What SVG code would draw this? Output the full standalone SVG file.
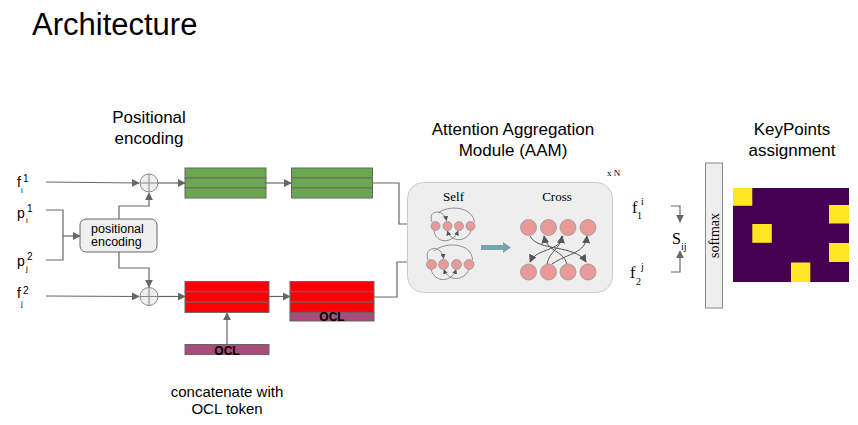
<svg xmlns="http://www.w3.org/2000/svg" width="858" height="425" viewBox="0 0 858 425">
<defs>
<marker id="ah" viewBox="0 0 10 10" refX="9" refY="5" markerWidth="8" markerHeight="8" orient="auto" markerUnits="userSpaceOnUse"><path d="M0,0 L10,5 L0,10 z" fill="#666"/></marker>
<marker id="ahs" viewBox="0 0 10 10" refX="9" refY="5" markerWidth="5" markerHeight="5" orient="auto" markerUnits="userSpaceOnUse"><path d="M0,0 L10,5 L0,10 z" fill="#555"/></marker>
<marker id="ahc" viewBox="0 0 10 10" refX="9" refY="5" markerWidth="8" markerHeight="8" orient="auto" markerUnits="userSpaceOnUse"><path d="M0,0 L10,5 L0,10 z" fill="#555"/></marker>
</defs>
<style>
.sans{font-family:"Liberation Sans",Arial,sans-serif;fill:#000}
.serif{font-family:"Liberation Serif","Times New Roman",serif;fill:#000}
.conn{fill:none;stroke:#666;stroke-width:1.2}
.green{fill:#6aa84f;stroke:#666;stroke-width:1}
.red{fill:#ff0000;stroke:#666;stroke-width:1}
.ocl{fill:#a64d79;stroke:#666;stroke-width:1}
.oclt{font-family:"Liberation Sans",Arial,sans-serif;font-weight:bold;font-size:12px;text-anchor:middle}
.sc{fill:#ea9999;stroke:#999;stroke-width:0.8}
.arc{fill:none;stroke:#777;stroke-width:0.8}
.carc{fill:none;stroke:#555;stroke-width:1}
.plus{fill:#eeeeee;stroke:#888;stroke-width:1}
</style>
<rect width="858" height="425" fill="#fff"/>

<text class="sans" x="32" y="35" font-size="31">Architecture</text>
<text class="sans" x="149" y="123" font-size="17" text-anchor="middle">Positional</text>
<text class="sans" x="149" y="144" font-size="17" text-anchor="middle">encoding</text>
<text class="sans" x="513" y="135" font-size="17" text-anchor="middle">Attention Aggregation</text>
<text class="sans" x="513" y="156" font-size="17" text-anchor="middle">Module (AAM)</text>
<text class="sans" x="792" y="135" font-size="17" text-anchor="middle">KeyPoints</text>
<text class="sans" x="792" y="156" font-size="17" text-anchor="middle">assignment</text>
<text class="sans" x="227" y="397" font-size="15" text-anchor="middle">concatenate with</text>
<text class="sans" x="227" y="414" font-size="15" text-anchor="middle">OCL token</text>

<g id="inputs">
<text class="sans" x="17" y="187" font-size="14">f</text><text class="sans" x="23" y="182" font-size="10">1</text><text class="sans" x="21" y="193" font-size="8">i</text>
<text class="sans" x="17" y="218" font-size="14">p</text><text class="sans" x="27" y="212" font-size="10">1</text><text class="sans" x="26" y="223" font-size="8">i</text>
<text class="sans" x="17" y="266" font-size="14">p</text><text class="sans" x="27" y="260" font-size="10">2</text><text class="sans" x="26" y="271" font-size="8">j</text>
<text class="sans" x="17" y="298" font-size="14">f</text><text class="sans" x="23" y="294" font-size="10">2</text><text class="sans" x="21" y="306" font-size="8">j</text>
</g>

<g id="connectors">
<line class="conn" x1="46" y1="182" x2="139" y2="183" marker-end="url(#ah)"/>
<line class="conn" x1="46" y1="296" x2="139" y2="296.5" marker-end="url(#ah)"/>
<polyline class="conn" points="46,210 63,210 63,260 46,260"/>
<line class="conn" x1="63" y1="236" x2="80" y2="236" marker-end="url(#ah)"/>
<polyline class="conn" points="119,219 119,206 149,206 149,193" marker-end="url(#ah)"/>
<polyline class="conn" points="119,252 119,268 149,268 149,287" marker-end="url(#ah)"/>
<line class="conn" x1="158" y1="183" x2="185" y2="183" marker-end="url(#ah)"/>
<line class="conn" x1="158" y1="296.5" x2="185" y2="296.5" marker-end="url(#ah)"/>
<line class="conn" x1="266" y1="183" x2="291" y2="183" marker-end="url(#ah)"/>
<line class="conn" x1="269" y1="296.5" x2="290" y2="296.5" marker-end="url(#ah)"/>
<line class="conn" x1="227" y1="344" x2="227" y2="313" marker-end="url(#ah)"/>
<polyline class="conn" points="373,183 399,183 399,224 425,224" marker-end="url(#ah)"/>
<polyline class="conn" points="374,297 397,297 397,262 421,262" marker-end="url(#ah)"/>
<polyline class="conn" points="671,206 680,206 680,222" marker-end="url(#ah)"/>
<polyline class="conn" points="671,272 680,272 680,251" marker-end="url(#ah)"/>
</g>

<g id="posenc">
<rect x="80" y="219" width="77" height="33" rx="6" fill="#efefef" stroke="#666" stroke-width="1"/>
<text class="sans" x="91" y="233" font-size="12.5">positional</text>
<text class="sans" x="91" y="246" font-size="12.5">encoding</text>
</g>

<g id="add1">
<circle class="plus" cx="149" cy="183" r="9"/>
<line x1="140" y1="183" x2="158" y2="183" stroke="#888"/><line x1="149" y1="174" x2="149" y2="192" stroke="#888"/>
</g>
<g id="add2">
<circle class="plus" cx="149" cy="296.5" r="9"/>
<line x1="140" y1="296.5" x2="158" y2="296.5" stroke="#888"/><line x1="149" y1="287.5" x2="149" y2="305.5" stroke="#888"/>
</g>

<g id="green1">
<rect class="green" x="185" y="168" width="81" height="10"/>
<rect class="green" x="185" y="178" width="81" height="10"/>
<rect class="green" x="185" y="188" width="81" height="10"/>
</g>
<g id="green2">
<rect class="green" x="291.5" y="168" width="81" height="10"/>
<rect class="green" x="291.5" y="178" width="81" height="10"/>
<rect class="green" x="291.5" y="188" width="81" height="10"/>
</g>
<g id="red1">
<rect class="red" x="185" y="281.5" width="84" height="10.3"/>
<rect class="red" x="185" y="291.8" width="84" height="10.3"/>
<rect class="red" x="185" y="302.1" width="84" height="10.3"/>
</g>
<g id="red2">
<rect class="red" x="290" y="281.5" width="84" height="10.3"/>
<rect class="red" x="290" y="291.8" width="84" height="10.3"/>
<rect class="red" x="290" y="302.1" width="84" height="10.3"/>
<rect class="ocl" x="290" y="312.4" width="84" height="8.6"/>
<text class="oclt" x="332" y="320.5">OCL</text>
</g>
<g id="ocl">
<rect class="ocl" x="185" y="344.5" width="84" height="10"/>
<text class="oclt" x="227" y="354.5">OCL</text>
</g>

<g id="aam">
<rect x="407.5" y="182.5" width="205" height="110" rx="16" fill="#eeeeee" stroke="#cccccc" stroke-width="1"/>
<text class="serif" x="607" y="176" font-size="9">x N</text>
<text class="serif" x="453.5" y="201" font-size="13" text-anchor="middle">Self</text>
<text class="serif" x="557" y="201" font-size="13" text-anchor="middle">Cross</text>
<path class="arc" d="M432,222 C427,210 444,208 446.5,220.5" marker-end="url(#ahs)"/>
<path class="arc" d="M438,213 C448,205 472,206 474.5,222"/>
<path class="arc" d="M434,231 C436,244 453,244 458,231" marker-end="url(#ahs)"/>
<path class="arc" d="M471,231 C467,242 451,243 447.5,231" marker-end="url(#ahs)"/>
<circle class="sc" cx="435.5" cy="226" r="4.5"/><circle class="sc" cx="447.5" cy="226" r="4.5"/><circle class="sc" cx="459" cy="226" r="4.5"/><circle class="sc" cx="470.5" cy="226" r="4.5"/>
<path class="arc" d="M428,260 C423,246 442,244 443.5,258.5" marker-end="url(#ahs)"/>
<path class="arc" d="M434,251 C446,241 472,243 472.5,260"/>
<path class="arc" d="M431,269 C434,283 452,283 456,269.5" marker-end="url(#ahs)"/>
<path class="arc" d="M469,269 C465,281 448,282 444,269.5" marker-end="url(#ahs)"/>
<circle class="sc" cx="431.5" cy="264.5" r="5"/><circle class="sc" cx="443.5" cy="264.5" r="5"/><circle class="sc" cx="456.5" cy="264.5" r="5"/><circle class="sc" cx="469" cy="264.5" r="5"/>
<path d="M481,245 L503,245 L503,242 L511,247.5 L503,253 L503,250 L481,250 z" fill="#76a5af"/>
<circle class="sc" cx="528.5" cy="227.5" r="8"/><circle class="sc" cx="548.5" cy="227.5" r="8"/><circle class="sc" cx="568" cy="227.5" r="8"/><circle class="sc" cx="588" cy="227.5" r="8"/>
<circle class="sc" cx="528.5" cy="272" r="8"/><circle class="sc" cx="548.5" cy="272" r="8"/><circle class="sc" cx="568" cy="272" r="8"/><circle class="sc" cx="588" cy="272" r="8"/>
<path class="carc" d="M530,236 C538,252 575,244 586,262" marker-end="url(#ahc)"/>
<path class="carc" d="M563,236 C560,252 536,248 530,262" marker-end="url(#ahc)"/>
<path class="carc" d="M567,264 C563,250 547,252 544,236" marker-end="url(#ahc)"/>
<path class="carc" d="M547,264 C550,250 560,250 562,236" marker-end="url(#ahc)"/>
<path class="carc" d="M552,264 C570,252 585,254 587,236" marker-end="url(#ahc)"/>
</g>

<g id="scores">
<text class="serif" x="632" y="213" font-size="16">f</text><text class="serif" x="641" y="205" font-size="10">i</text><text class="serif" x="637" y="219" font-size="10">1</text>
<text class="serif" x="630" y="278" font-size="16">f</text><text class="serif" x="641" y="270" font-size="10">j</text><text class="serif" x="636" y="285" font-size="10">2</text>
<text class="serif" x="672" y="244" font-size="16">S</text><text class="serif" x="681" y="250" font-size="10">ij</text>
</g>

<g id="softmax">
<rect x="705.5" y="163" width="17" height="145" fill="#eeeeee" stroke="#888" stroke-width="1"/>
<text class="serif" x="0" y="0" font-size="14" text-anchor="middle" transform="translate(719,235.5) rotate(-90)">softmax</text>
</g>

<g id="matrix">
<rect x="733" y="188" width="116" height="94" fill="#440154"/>
<rect x="733" y="188" width="19.3" height="17.8" fill="#fde725"/>
<rect x="829" y="205" width="20" height="18.5" fill="#fde725"/>
<rect x="752.3" y="224" width="19.5" height="18.8" fill="#fde725"/>
<rect x="829" y="243" width="20" height="19" fill="#fde725"/>
<rect x="791" y="262.5" width="19.3" height="19.5" fill="#fde725"/>
</g>
</svg>
